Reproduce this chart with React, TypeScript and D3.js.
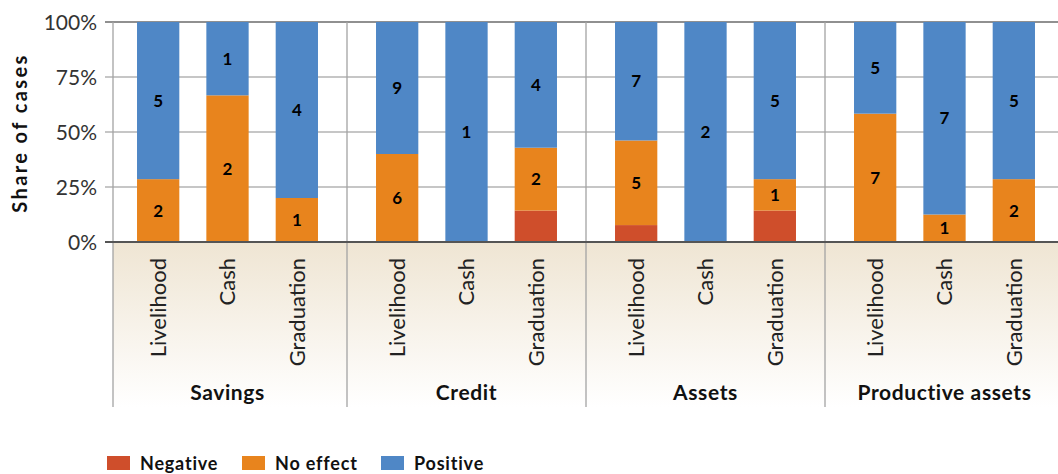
import React from "react";
import * as d3 from "d3";

// groups and bar types along the two-level x axis
const groups = ["Savings", "Credit", "Assets", "Productive assets"];
const types = ["Livelihood", "Cash", "Graduation"];

// counts of cases, in order group x type
const negative = [0, 0, 0, 0, 0, 1, 1, 0, 1, 0, 0, 0];
const noEffect = [2, 2, 1, 6, 0, 2, 5, 0, 1, 7, 1, 2];
const positive = [5, 1, 4, 9, 1, 4, 7, 2, 5, 5, 7, 5];

const seriesNames = ["Negative", "No effect", "Positive"];
const yTicks = [0, 0.25, 0.5, 0.75, 1];

const colors: Record<string, string> = {
  Negative: "#cf4e2b",
  "No effect": "#e8841d",
  Positive: "#4f87c6",
};

const W = 1058, H = 474;
const left = 113, top = 22, bottom = 242, axisBottom = 407;
const groupStart = 108, groupW = 239;
const font = "Lato, 'Noto Sans', sans-serif";

export default function App() {
  const rows = d3.range(groups.length * types.length).map(i => ({
    group: groups[Math.floor(i / types.length)],
    type: types[i % types.length],
    Negative: negative[i],
    "No effect": noEffect[i],
    Positive: positive[i],
  }));
  const normed = rows.map(r => {
    const t = r.Negative + r["No effect"] + r.Positive;
    return { ...r, Negative: r.Negative / t, "No effect": r["No effect"] / t, Positive: r.Positive / t, raw: r };
  });
  const stack = d3.stack<any>().keys(seriesNames)(normed);

  const x0 = d3.scaleBand().domain(groups).range([groupStart, groupStart + groupW * groups.length]);
  const x1 = d3.scaleBand().domain(types).range([15.5, 223.5]).paddingInner(0.39).paddingOuter(0.195);
  const y = d3.scaleLinear().domain([0, 1]).range([bottom, top]);
  const pct = d3.format(".0%");

  return (
    <svg width={W} height={H} style={{ position: "absolute", left: 0, top: 0, background: "#fff" }} fontFamily={font}>
      <defs>
        <linearGradient id="axbg" x1="0" y1="0" x2="0" y2="1">
          <stop offset="0" stopColor="#efe5d3" />
          <stop offset="1" stopColor="#ffffff" />
        </linearGradient>
      </defs>
      <rect x={left} y={bottom} width={W - left} height={axisBottom - bottom} fill="url(#axbg)" />

      {/* gridlines */}
      {yTicks.map(t => (
        <line key={t} x1={105} x2={W} y1={y(t)} y2={y(t)}
          stroke={t === 1 ? "#222" : "#b3b3b3"} strokeWidth={t === 1 ? 1.2 : 1.5} />
      ))}
      {yTicks.map(t => (
        <text key={"l" + t} x={97} y={y(t)} dy="0.36em" textAnchor="end" fontSize={21} fill="#333">{pct(t)}</text>
      ))}
      <text transform={`translate(27,${(top + bottom) / 2 + 1}) rotate(-90)`} textAnchor="middle" fontSize={20}
        fontWeight="bold" letterSpacing={2.4} fill="#111">Share of cases</text>

      {/* vertical separators */}
      <line x1={left} x2={left} y1={top} y2={axisBottom} stroke="#a3a3a3" strokeWidth={1.3} />
      {groups.slice(1).map(g => (
        <line key={g} x1={x0(g)!} x2={x0(g)!} y1={top} y2={axisBottom} stroke="#a3a3a3" strokeWidth={1.3} />
      ))}

      {/* bars */}
      {stack.map(s => (
        <g key={s.key} fill={colors[s.key]}>
          {s.map((d, i) => {
            const r = normed[i];
            const bx = x0(r.group)! + x1(r.type)!;
            const h = y(d[0]) - y(d[1]);
            if (h <= 0) return null;
            return <rect key={i} x={bx} y={y(d[1])} width={x1.bandwidth()} height={h} />;
          })}
        </g>
      ))}
      {stack.filter(s => s.key !== "Negative").map(s => (
        <g key={"v" + s.key}>
          {s.map((d, i) => {
            const r = normed[i];
            const v = (r.raw as any)[s.key];
            if (!v) return null;
            const cx = x0(r.group)! + x1(r.type)! + x1.bandwidth() / 2;
            return <text key={i} x={cx} y={(y(d[0]) + y(d[1])) / 2} dy="0.36em" textAnchor="middle"
              fontSize={17} fontWeight="bold" fill="#000">{v}</text>;
          })}
        </g>
      ))}

      <line x1={105} x2={W} y1={bottom} y2={bottom} stroke="#555" strokeWidth={2.2} />

      {/* category labels */}
      {normed.map((r, i) => {
        const cx = x0(r.group)! + x1(r.type)! + x1.bandwidth() / 2;
        return <text key={"c" + i} transform={`translate(${cx},258) rotate(-90)`} dy="0.36em" textAnchor="end"
          fontSize={22} fill="#222">{r.type}</text>;
      })}
      {groups.map(g => (
        <text key={"g" + g} x={x0(g)! + groupW / 2} y={400} textAnchor="middle" fontSize={21} fontWeight="bold"
          letterSpacing={0.6} fill="#111">{g}</text>
      ))}

      {/* legend */}
      {seriesNames.map((s, i) => {
        const lx = [107, 242, 381][i];
        return (
          <g key={"lg" + s} transform={`translate(${lx},456)`}>
            <rect width={23} height={14} fill={colors[s]} />
            <text x={33} y={14} fontSize={18} fontWeight="bold" letterSpacing={0.8} fill="#111">{s}</text>
          </g>
        );
      })}
    </svg>
  );
}
